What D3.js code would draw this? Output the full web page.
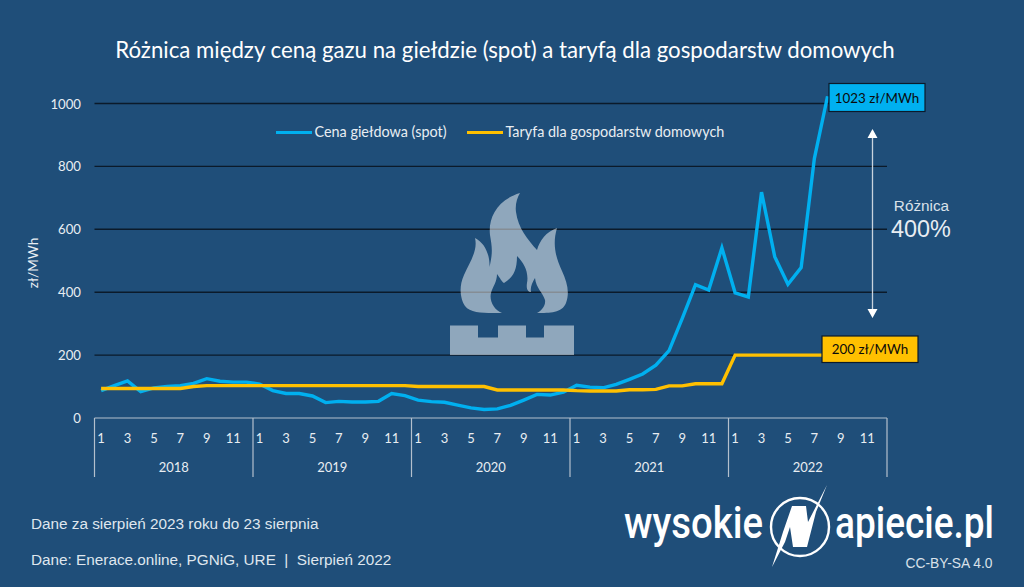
<!DOCTYPE html>
<html lang="pl">
<head>
<meta charset="utf-8">
<title>Różnica między ceną gazu na giełdzie a taryfą</title>
<script src="https://cdn.jsdelivr.net/npm/d3@7/dist/d3.min.js"></script>
<style>
  html, body { margin: 0; padding: 0; background: #1f4e79; }
  svg { display: block; }
  text { font-family: Lato, sans-serif; }
</style>
</head>
<body>
<svg id="chart" width="1024" height="587"></svg>
<script>
// Monthly prices in zł/MWh, January 2018 to August 2022
const years = [2018, 2019, 2020, 2021, 2022];
const monthsPerYear = 12;
const monthLabels = [1, 3, 5, 7, 9, 11];
const yTicks = [0, 200, 400, 600, 800, 1000];

const spotPrices = [
  87, 103, 118, 84, 96, 100, 103, 110, 125, 117, 114, 114,
  108, 87, 78, 78, 70, 49, 53, 51, 51, 53, 78, 71,
  57, 52, 50, 41, 32, 27, 29, 40, 57, 75, 73, 82,
  104, 98, 96, 107, 123, 140, 168, 214, 317, 424, 407, 541,
  398, 385, 718, 513, 425, 478, 825, 1023
];
const tariff = [
  94, 94, 94, 94, 94, 94, 94, 100, 103, 103, 103, 103,
  103, 103, 103, 103, 103, 103, 103, 103, 103, 103, 103, 103,
  100, 100, 100, 100, 100, 100, 89, 89, 89, 89, 89, 89,
  87, 86, 86, 86, 90, 90, 91, 102, 102, 109, 109, 109,
  200, 200, 200, 200, 200, 200, 200, 200
];

const seriesNames = ["Cena giełdowa (spot)", "Taryfa dla gospodarstw domowych"];
const spotColor = "#00b0f0";
const tariffColor = "#ffc000";
const lineText = "#e8edf2";

const svg = d3.select("#chart");
const plotLeft = 94.5, plotRight = 887, plotTop = 103.5, plotBottom = 418;

const monthCount = years.length * monthsPerYear;
const x = d3.scaleBand().domain(d3.range(monthCount)).range([plotLeft, plotRight]);
const y = d3.scaleLinear().domain([0, 1000]).range([plotBottom, plotTop]);
const cx = i => x(i) + x.bandwidth() / 2;

// Title
svg.append("text").attr("x", 505).attr("y", 58).attr("text-anchor", "middle")
  .attr("fill", "#fff").attr("font-size", 22.25)
  .text("Różnica między ceną gazu na giełdzie (spot) a taryfą dla gospodarstw domowych");

// Gridlines and value labels
svg.append("g").selectAll("line").data(yTicks.filter(d => d > 0)).join("line")
  .attr("x1", plotLeft).attr("x2", plotRight)
  .attr("y1", d => y(d)).attr("y2", d => y(d))
  .attr("stroke", "#0b1a2a").attr("stroke-width", 1.4);

svg.append("g").selectAll("text").data(yTicks).join("text")
  .attr("x", 81).attr("y", d => y(d) + 5).attr("text-anchor", "end")
  .attr("fill", lineText).attr("font-size", 13.2).text(d => d);

svg.append("text").attr("transform", "translate(38,263) rotate(-90)")
  .attr("fill", lineText).attr("font-size", 13.5).attr("text-anchor", "middle").text("zł/MWh");

// Two-level month and year axis
const axisColor = "#b4c0cd";
const yearEdge = i => plotLeft + (plotRight - plotLeft) * i / years.length;
const axis = svg.append("g").attr("stroke", axisColor).attr("stroke-width", 1.2);
axis.append("line").attr("x1", plotLeft).attr("x2", plotRight).attr("y1", plotBottom).attr("y2", plotBottom);
axis.selectAll("line.sep").data(d3.range(years.length + 1)).join("line").attr("class", "sep")
  .attr("x1", yearEdge).attr("x2", yearEdge)
  .attr("y1", plotBottom).attr("y2", 477);

years.forEach((yr, yi) => {
  monthLabels.forEach(m => {
    svg.append("text").attr("x", cx(yi * monthsPerYear + m - 1)).attr("y", 443)
      .attr("text-anchor", "middle").attr("fill", lineText).attr("font-size", 13).text(m);
  });
  svg.append("text").attr("x", yearEdge(yi + 0.5)).attr("y", 472)
    .attr("text-anchor", "middle").attr("fill", lineText).attr("font-size", 13).text(yr);
});

// Flame and burner symbol
const icon = svg.append("g").attr("fill", "#fff").attr("fill-opacity", 0.5);
icon.append("path").attr("d",
  "M520,193 C497,200 488,218 490,235 C492,247 493,252 489.5,267 C490,255 485,243 475,238 " +
  "C478,250 470,262 464,275 C458,288 461,300 465,306 C471,314 487,313 502,313 " +
  "C494,310 489,301 491,293 C493,286 497,282 497,274 C500,278 502,282 504,283 " +
  "C512,278 517,272 517,256 C524,263 529,272 527,283 C526,289 528,292 531,292 " +
  "C530,288 532,283 535,278 C536,288 543,293 545,300 C546,306 541,311 537,313 " +
  "C550,313 562,313 566,303 C570,292 567,282 562,271 C556,258 552,245 557,228 " +
  "C546,232 540,240 537,250 C528,240 518,228 516,212 C515,205 517,198 520,193 Z");
icon.append("path").attr("d",
  "M450,325.5 L478,325.5 L478,337.5 L498,337.5 L498,325.5 L526,325.5 L526,337.5 L544,337.5 L544,325.5 L574,325.5 L574,355 L450,355 Z");

// Price lines
const line = d3.line().x((d, i) => cx(i)).y(d => y(d));
svg.append("path").datum(spotPrices).attr("d", line)
  .attr("fill", "none").attr("stroke", spotColor).attr("stroke-width", 3.4);
svg.append("path").datum(tariff).attr("d", line)
  .attr("fill", "none").attr("stroke", tariffColor).attr("stroke-width", 3.4);

// Legend
const legend = svg.append("g");
[[276, 312, 314.5, spotColor], [467, 503, 505.5, tariffColor]].forEach((r, i) => {
  legend.append("line").attr("x1", r[0]).attr("x2", r[1]).attr("y1", 132.5).attr("y2", 132.5)
    .attr("stroke", r[3]).attr("stroke-width", 3.2);
  legend.append("text").attr("x", r[2]).attr("y", 137).attr("fill", lineText)
    .attr("font-size", 14.4).text(seriesNames[i]);
});

// End-of-line value callouts
function callout(xPos, yPos, w, h, fill, label) {
  svg.append("rect").attr("x", xPos).attr("y", yPos).attr("width", w).attr("height", h)
    .attr("fill", fill).attr("stroke", "#0b1a2a").attr("stroke-width", 1.2);
  svg.append("text").attr("x", xPos + w / 2).attr("y", yPos + h / 2 + 5).attr("text-anchor", "middle")
    .attr("fill", "#0b0b0b").attr("font-size", 13.4).text(label);
}
callout(829, 83.5, 96, 28, spotColor, spotPrices[spotPrices.length - 1] + " zł/MWh");
callout(822, 336, 96, 26.5, tariffColor, tariff[tariff.length - 1] + " zł/MWh");

// Double-headed arrow showing the gap between the two prices
const arrowX = 872.5, arrowTop = 129, arrowBottom = 318;
svg.append("line").attr("x1", arrowX).attr("x2", arrowX).attr("y1", arrowTop + 8).attr("y2", arrowBottom - 8)
  .attr("stroke", "#c9d3dd").attr("stroke-width", 1.3);
svg.append("path").attr("fill", "#fff")
  .attr("d", `M${arrowX},${arrowTop} l5,9 h-10 Z M${arrowX},${arrowBottom} l5,-9 h-10 Z`);

const sansFont = "Liberation Sans, sans-serif";
svg.append("text").attr("x", 921.5).attr("y", 210.5).attr("text-anchor", "middle")
  .attr("fill", "#d9e1e9").style("font-family", sansFont).attr("font-size", 15.3).text("Różnica");
svg.append("text").attr("x", 921).attr("y", 237).attr("text-anchor", "middle")
  .attr("fill", "#e8edf2").style("font-family", sansFont).attr("font-size", 23.4).text("400%");

// Footer notes
const notes = svg.append("g").attr("fill", "#dfe6ee").attr("font-size", 15.3);
notes.append("text").attr("x", 31).attr("y", 529).style("font-family", sansFont)
  .text("Dane za sierpień 2023 roku do 23 sierpnia");
notes.append("text").attr("x", 31).attr("y", 565).style("white-space", "pre")
  .style("font-family", sansFont).text("Dane: Enerace.online, PGNiG, URE  |  Sierpień 2022");

// Publisher mark: wordmark with a circled N split by a lightning bolt
const logo = svg.append("g").attr("fill", "#fff");
logo.append("text").attr("x", 624).attr("y", 538).attr("font-size", 44).attr("textLength", 139)
  .attr("lengthAdjust", "spacingAndGlyphs").style("font-family", "Roboto, sans-serif").attr("font-weight", 500).text("wysokie");
logo.append("text").attr("x", 835).attr("y", 538).attr("font-size", 44).attr("textLength", 159)
  .attr("lengthAdjust", "spacingAndGlyphs").style("font-family", "Roboto, sans-serif").attr("font-weight", 500).text("apiecie.pl");
logo.append("circle").attr("cx", 800).attr("cy", 527).attr("r", 29)
  .attr("fill", "none").attr("stroke", "#fff").attr("stroke-width", 2.4);
logo.append("path").attr("d",
  "M827,485 L816,512 L807,547 L793,547 L790,527 L785,542 L772,567 L783,532 L792,506 L806,506 L808,522 Z");
svg.append("text").attr("x", 905.5).attr("y", 568).attr("fill", "#d9e1e9")
  .style("font-family", sansFont).attr("font-size", 13.8).text("CC-BY-SA 4.0");
</script>
</body>
</html>
